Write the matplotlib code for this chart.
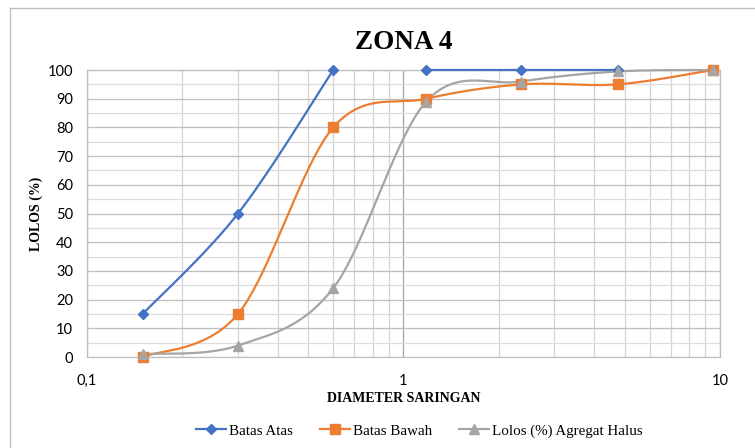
import numpy as np
import matplotlib.pyplot as plt
from matplotlib.ticker import FixedLocator, FuncFormatter, NullFormatter

# sieve sizes (mm) and passing percentages
saringan = [0.15, 0.3, 0.6, 1.18, 2.36, 4.75, 9.5]
batas_atas = [15, 50, 100, np.nan, 100, 100, 100]
batas_atas_x = [0.15, 0.3, 0.6, np.nan, 1.18, 2.36, 4.75]
batas_bawah = [0, 15, 80, 90, 95, 95, 100]
lolos = [1, 4, 24, 89, 96, 99.5, 100]


def smooth(xs, ys, n=40):
    # Excel-like smoothed line: Catmull-Rom bezier in log-x space
    u = np.log10(np.asarray(xs, float))
    v = np.asarray(ys, float)
    out_u, out_v = [], []
    m = len(u)
    for i in range(m - 1):
        p0 = np.array([u[max(i - 1, 0)], v[max(i - 1, 0)]])
        p1 = np.array([u[i], v[i]])
        p2 = np.array([u[i + 1], v[i + 1]])
        p3 = np.array([u[min(i + 2, m - 1)], v[min(i + 2, m - 1)]])
        c1 = p1 + (p2 - p0) / 6
        c2 = p2 - (p3 - p1) / 6
        t = np.linspace(0, 1, n)[:, None]
        b = ((1 - t) ** 3) * p1 + 3 * ((1 - t) ** 2) * t * c1 + 3 * (1 - t) * t ** 2 * c2 + t ** 3 * p2
        out_u.extend(b[:, 0]); out_v.extend(b[:, 1])
    return 10 ** np.array(out_u), np.array(out_v)


def segments(xs, ys):
    segs, cx, cy = [], [], []
    for a, b in zip(xs, ys):
        if np.isnan(a) or np.isnan(b):
            if cx:
                segs.append((cx, cy))
            cx, cy = [], []
        else:
            cx.append(a); cy.append(b)
    if cx:
        segs.append((cx, cy))
    return segs


fig = plt.figure(figsize=(7.55, 4.48), dpi=100)
ax = fig.add_axes([0.1152, 0.2031, 0.8384, 0.6406])

blue = '#4472C4'
orange = '#ED7D31'
gray = '#A5A5A5'

for sx, sy in segments(batas_atas_x, batas_atas):
    cx, cy = smooth(sx, sy)
    ax.plot(cx, cy, color=blue, lw=1.6, zorder=3, clip_on=False)
ax.plot(batas_atas_x, batas_atas, ls='none', marker='D', ms=5, color=blue, zorder=4, clip_on=False)

cx, cy = smooth(saringan, batas_bawah)
ax.plot(cx, cy, color=orange, lw=1.6, zorder=3, clip_on=False)
ax.plot(saringan, batas_bawah, ls='none', marker='s', ms=7, color=orange, zorder=4, clip_on=False)

cx, cy = smooth(saringan, lolos)
ax.plot(cx, cy, color=gray, lw=1.6, zorder=3, clip_on=False)
ax.plot(saringan, lolos, ls='none', marker='^', ms=7, color=gray, zorder=4, clip_on=False)

ax.set_xscale('log')
ax.set_xlim(0.1, 10)
ax.set_ylim(0, 100)

minor_x = [k * 0.1 for k in range(2, 10)] + list(range(2, 10))
ax.xaxis.set_major_locator(FixedLocator([0.1, 1, 10]))
ax.xaxis.set_minor_locator(FixedLocator(minor_x))
ax.xaxis.set_major_formatter(FuncFormatter(lambda v, p: {0.1: '0,1', 1: '1', 10: '10'}.get(round(v, 3), '')))
ax.xaxis.set_minor_formatter(NullFormatter())
ax.yaxis.set_major_locator(FixedLocator(range(0, 101, 10)))
ax.yaxis.set_minor_locator(FixedLocator(range(5, 100, 10)))

ax.grid(which='major', axis='x', color='#A6A6A6', lw=0.9)
ax.grid(which='minor', axis='x', color='#D4D4D4', lw=0.9)
ax.grid(which='major', axis='y', color='#BFBFBF', lw=0.9)
ax.grid(which='minor', axis='y', color='#DCDCDC', lw=0.9)
ax.set_axisbelow(True)
for s in ax.spines.values():
    s.set_color('#BFBFBF')
    s.set_linewidth(0.9)
ax.tick_params(which='both', length=0)
ax.tick_params(axis='x', pad=12, labelsize=10.5)
ax.tick_params(axis='y', pad=10, labelsize=10.5)
for lab in ax.get_xticklabels() + ax.get_yticklabels():
    lab.set_fontfamily('Lato')

ax.set_title('ZONA 4', fontfamily='Liberation Serif', fontweight='bold', fontsize=19.5, pad=15)
ax.set_xlabel('DIAMETER SARINGAN', fontfamily='Liberation Serif', fontweight='bold', fontsize=10, labelpad=3)
ax.set_ylabel('LOLOS (%)', fontfamily='Liberation Serif', fontweight='bold', fontsize=10, labelpad=3)

h1, = ax.plot([], [], color=blue, lw=1.6, marker='D', ms=5)
h2, = ax.plot([], [], color=orange, lw=1.6, marker='s', ms=7)
h3, = ax.plot([], [], color=gray, lw=1.6, marker='^', ms=7)
fig.legend([h1, h2, h3], ['Batas Atas', 'Batas Bawah', 'Lolos (%) Agregat Halus'],
           loc='center', bbox_to_anchor=(0.556, 0.038), ncol=3, frameon=False,
           prop={'family': 'Liberation Serif', 'size': 10.8}, handlelength=2.0,
           handletextpad=0.2, columnspacing=1.8)

# chart area border
fig.add_artist(plt.Line2D([0.0135, 0.0135], [0, 0.982], color='#BFBFBF', lw=1, transform=fig.transFigure))
fig.add_artist(plt.Line2D([0.0135, 1], [0.982, 0.982], color='#BFBFBF', lw=1, transform=fig.transFigure))

fig.savefig('out.png', dpi=100)
